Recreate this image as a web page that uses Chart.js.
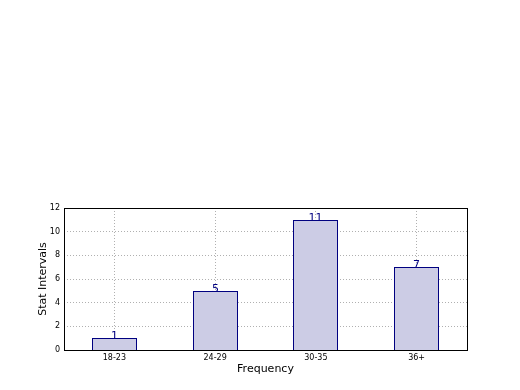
<!DOCTYPE html>
<html><head><meta charset="utf-8">
<script src="https://cdn.jsdelivr.net/npm/chart.js@4"></script>
<style>html,body{margin:0;padding:0;background:#fff}canvas{display:block}</style>
</head><body>
<canvas id="c" width="520" height="390"></canvas>
<script>
const categories = ['18-23', '24-29', '30-35', '36+'];
const counts = [1, 5, 11, 7];
const yTicks = [0, 2, 4, 6, 8, 10, 12];

const frame = {
  id: 'frame',
  beforeDatasetsDraw(chart) {
    chart.getDatasetMeta(0).data.forEach(bar => {
      bar.x = Math.round(bar.x - 0.5) + 0.5;
      bar.width = 45;
      bar.y = Math.round(bar.y);
      bar.base = Math.round(bar.base);
    });
  },
  afterDatasetsDraw(chart) {
    const {ctx} = chart;
    const meta = chart.getDatasetMeta(0);
    ctx.save();
    ctx.fillStyle = '#000080';
    ctx.font = '11px "DejaVu Sans"';
    ctx.textAlign = 'center';
    ctx.textBaseline = 'alphabetic';
    meta.data.forEach((bar, i) => {
      ctx.fillText(String(counts[i]), bar.x, bar.y + 1);
    });
    ctx.restore();
  },
  afterDraw(chart) {
    const {ctx, chartArea: a} = chart;
    ctx.save();
    ctx.strokeStyle = '#000';
    ctx.lineWidth = 1;
    ctx.strokeRect(Math.round(a.left) + 0.5, Math.round(a.top) + 0.5, Math.round(a.right - a.left), Math.round(a.bottom - a.top));
    ctx.restore();
  }
};

new Chart(document.getElementById('c'), {
  type: 'bar',
  data: {
    labels: categories,
    datasets: [{
      data: counts,
      backgroundColor: '#ccccE5',
      borderColor: '#000080',
      borderWidth: 1,
      barPercentage: 0.45,
      categoryPercentage: 1
    }]
  },
  options: {
    responsive: false,
    animation: false,
    layout: {padding: {top: 208, right: 53, left: 30, bottom: 14}},
    plugins: {legend: {display: false}, tooltip: {enabled: false}},
    scales: {
      x: {
        z: 1,
        offset: true,
        grid: {offset: false, color: '#b0b0b0', lineWidth: 1, drawTicks: false},
        border: {display: false, dash: [1, 2]},
        ticks: {color: '#000', font: {family: 'DejaVu Sans', size: 8}, padding: 3, maxRotation: 0},
        title: {display: true, text: 'Frequency', color: '#000', font: {family: 'DejaVu Sans', size: 11}, padding: {top: 0, bottom: 0}},
        afterFit(s) { s.height = 26; }
      },
      y: {
        z: 1,
        min: 0, max: 12,
        afterBuildTicks(s) { s.ticks = yTicks.map(v => ({value: v})); },
        grid: {color: '#b0b0b0', lineWidth: 1, drawTicks: false},
        border: {display: false, dash: [1, 2]},
        ticks: {color: '#000', font: {family: 'DejaVu Sans', size: 8}, padding: 4},
        title: {display: true, text: 'Stat Intervals', color: '#000', font: {family: 'DejaVu Sans', size: 11}, padding: {top: 7, bottom: 0}},
        afterFit(s) { s.width = 34; }
      }
    }
  },
  plugins: [frame]
});
</script>
</body></html>
